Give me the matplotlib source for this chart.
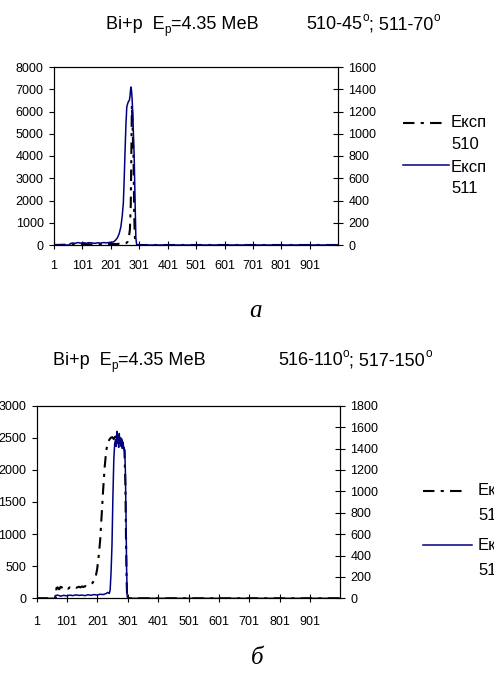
import matplotlib
matplotlib.use("Agg")
import matplotlib.pyplot as plt
from matplotlib.lines import Line2D

plt.rcParams['font.family'] = ['Liberation Sans', 'DejaVu Sans']

# ---------------- data ----------------
x_ticks = [1, 101, 201, 301, 401, 501, 601, 701, 801, 901]
x_tick_labels = ['1', '101', '201', '301', '401', '501', '601', '701', '801', '901']

# Panel a: Експ 510 (left axis), Експ 511 (right axis)
a_ch_510 = [1, 60, 70, 80, 90, 100, 110, 120, 130, 140, 150, 160, 170, 180, 190, 200, 210, 220,
            230, 240, 250, 256, 260, 264, 268, 271, 273, 275, 277, 279, 281, 283, 285, 287, 289,
            291, 1000]
a_510 = [0, 20, 35, 25, 40, 30, 45, 35, 30, 40, 35, 30, 45, 40, 35, 50, 45, 40,
         55, 60, 70, 90, 150, 300, 700, 1800, 4000, 6300, 5600, 4600, 3800, 1500, 500, 100, 30,
         0, 0]

a_ch_511 = [1, 55, 58, 65, 75, 85, 95, 105, 115, 125, 135, 145, 155, 165, 175, 185, 195, 205,
            212, 218, 224, 230, 236, 241, 245, 248, 251, 254, 257, 260, 263, 266, 268, 270, 272,
            274, 276, 278, 280, 283, 286, 289, 292, 1000]
a_511 = [0, 0, 12, 18, 15, 22, 17, 20, 16, 21, 18, 15, 20, 17, 22, 19, 23, 25,
         30, 45, 65, 100, 160, 260, 380, 600, 850, 1080, 1240, 1270, 1290, 1300, 1330, 1390, 1420,
         1380, 1300, 1180, 1030, 800, 420, 60, 0, 0]

# Panel б: Експ 516 (left axis), Експ 517 (right axis)
b_ch_516 = [1, 64, 66, 70, 75, 80, 85, 90, 95, 100, 105, 110, 115, 120, 125, 130, 135, 140, 145,
            150, 155, 160, 165, 170, 175, 180, 185, 190, 195, 200, 205, 210, 215, 220, 225, 230,
            235, 240, 245, 250, 255, 260, 265, 270, 275, 280, 285, 290, 293, 295, 297, 299, 1000]
b_516 = [0, 0, 160, 170, 140, 180, 165, 150, 175, 160, 150, 170, 155, 160, 175, 165, 170, 180, 170,
         185, 175, 190, 185, 200, 205, 220, 240, 280, 330, 450, 650, 900, 1300, 1700, 2050, 2300,
         2420, 2470, 2500, 2510, 2480, 2520, 2500, 2490, 2510, 2480, 2400, 2300, 1800, 1000, 300, 0, 0]

b_ch_517 = [1, 60, 62, 70, 80, 90, 100, 110, 120, 130, 140, 150, 160, 170, 180, 190, 200, 210, 220,
            230, 235, 240, 243, 246, 249, 252, 255, 258, 261, 263, 265, 267, 269, 271, 273, 275,
            277, 279, 281, 283, 285, 287, 289, 291, 293, 295, 297, 299, 301, 1000]
b_517 = [0, 0, 25, 30, 20, 28, 22, 30, 25, 32, 27, 30, 25, 33, 28, 35, 30, 38, 35,
         45, 55, 45, 80, 250, 500, 950, 1300, 1450, 1480, 1420, 1560, 1450, 1520, 1410, 1540, 1450,
         1500, 1420, 1480, 1400, 1460, 1420, 1400, 1380, 1200, 800, 300, 20, 0, 0]

BLUE = '#000080'
DASH = (0, (5.5, 3, 1.5, 3))

W, H = 494, 677
fig = plt.figure(figsize=(W / 100, H / 100), dpi=100)
renderer = fig.canvas.get_renderer()


def px_rect(l, t, r, b):
    return [l / W, 1 - b / H, (r - l) / W, (b - t) / H]


def panel(rect, ch_l, v_l, ch_r, v_r, ylim_l, ystep_l, ylim_r, ystep_r, xpad):
    ax = fig.add_axes(rect)
    ax.plot(ch_l, v_l, color='black', lw=1.5, ls=DASH)
    ax.set_xlim(1, 1000)
    ax.set_ylim(0, ylim_l)
    ax.set_yticks(range(0, ylim_l + 1, ystep_l))
    ax.set_xticks(x_ticks)
    ax.set_xticklabels(x_tick_labels)
    ax.tick_params(axis='y', direction='out', length=3.5, width=0.8, pad=4, labelsize=9)
    ax.tick_params(axis='x', direction='inout', length=6, width=0.8, pad=xpad, labelsize=9)
    ax2 = ax.twinx()
    ax2.plot(ch_r, v_r, color=BLUE, lw=1.1)
    ax2.set_ylim(0, ylim_r)
    ax2.set_yticks(range(0, ylim_r + 1, ystep_r))
    ax2.tick_params(axis='y', direction='inout', length=7, width=0.8, pad=4, labelsize=9)
    for a in (ax, ax2):
        for s in a.spines.values():
            s.set_linewidth(0.8)
            s.set_color('black')
    return ax, ax2


panel(px_rect(54, 67, 338, 245), a_ch_510, a_510, a_ch_511, a_511, 8000, 1000, 1600, 200, 8)
panel(px_rect(36.7, 405.7, 340, 598.3), b_ch_516, b_516, b_ch_517, b_517, 3000, 500, 1800, 200, 10)


def ftext(x, y, s, **kw):
    return fig.text(x / W, 1 - y / H, s, **kw)


def rich(x, y, pieces, size):
    """pieces: list of (text, kind) with kind in {'n','sub','sup'}; x,y in px (baseline)."""
    cx = x
    for s, kind in pieces:
        if kind == 'n':
            fs, dy = size, 0
        elif kind == 'sub':
            fs, dy = size * 0.65, size * 0.2 * 100 / 72
        else:
            fs, dy = size * 0.65, -size * 0.45 * 100 / 72
        t = ftext(cx, y + dy, s, fontsize=fs, va='baseline', ha='left')
        bb = t.get_window_extent(renderer)
        cx += bb.width


TS = 13
rich(106, 29, [('Bi+p  E', 'n'), ('p', 'sub'), ('=4.35 МеВ', 'n')], TS)
rich(306, 29, [('510-45', 'n'), ('o', 'sup'), ('; 511-70', 'n'), ('o', 'sup')], TS)
rich(53, 365, [('Bi+p  E', 'n'), ('p', 'sub'), ('=4.35 МеВ', 'n')], TS)
rich(278, 365, [('516-110', 'n'), ('o', 'sup'), ('; 517-150', 'n'), ('o', 'sup')], TS)


def legend_entry(x0, x1, y, tx, b1, b2, lab1, lab2, **lkw):
    fig.add_artist(Line2D([x0 / W, x1 / W], [1 - y / H, 1 - y / H], transform=fig.transFigure, **lkw))
    ftext(tx, b1, lab1, fontsize=12, va='baseline')
    ftext(tx, b2, lab2, fontsize=12, va='baseline')


legend_entry(403, 443, 122.5, 451, 126.7, 149, 'Експ', '510', color='black', lw=1.5, ls=DASH)
legend_entry(403, 449, 165, 451, 171.7, 193.3, 'Експ', '511', color=BLUE, lw=1.1)
legend_entry(423, 467, 490.7, 478, 495, 520, 'Експ', '516', color='black', lw=1.5, ls=DASH)
legend_entry(423, 472, 545, 478, 550, 575, 'Експ', '517', color=BLUE, lw=1.1)

# captions
ftext(255, 311, 'а', fontsize=18, family='Liberation Serif', style='italic', ha='center', va='center')
ftext(257, 658, 'б', fontsize=18, family='Liberation Serif', style='italic', ha='center', va='center')

fig.savefig('out.png', dpi=100)
